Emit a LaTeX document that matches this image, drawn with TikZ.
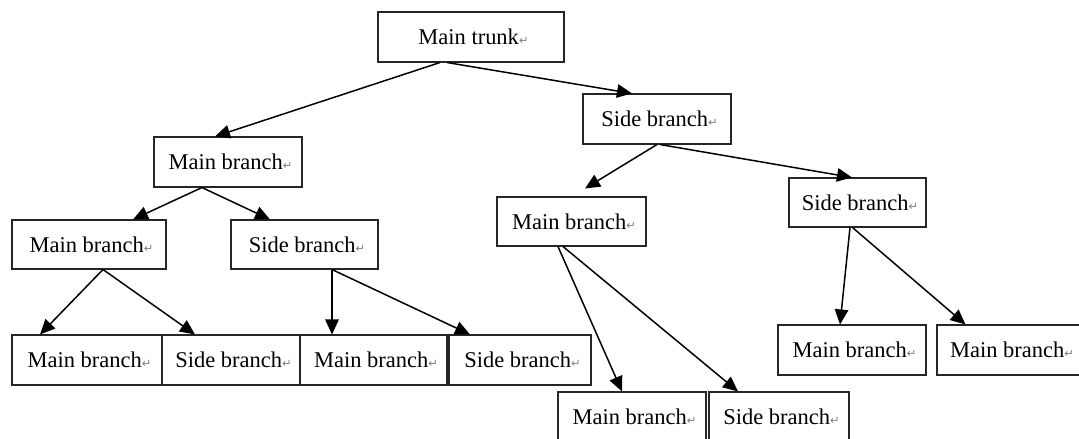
\documentclass[tikz,border=0pt]{standalone}
\usepackage{fontspec}
\setmainfont{Liberation Serif}
\newfontfamily\markfont{DejaVu Sans}
\usetikzlibrary{arrows.meta}
\newcommand{\retmark}{{\markfont\fontsize{6.5}{6.5}\selectfont\color{gray}↵}}

\begin{document}
\begin{tikzpicture}
\fontsize{12.8}{14}\selectfont
  \tikzstyle{boxStyle}=[draw=black!85,line width=0.6pt,fill=white,minimum height=1cm,inner sep=0pt,text centered]
  \tikzstyle{arrStyle}=[line width=0.85pt,-{Triangle[length=0.3cm,width=0.27cm]}]

  \useasboundingbox (0,0) rectangle (21.58,-8.78);

  % top
  \node[boxStyle,minimum width=3.72cm](trunk) at (9.42,-0.74) {\hspace{0.1cm}Main trunk\retmark};
  \node[boxStyle,minimum width=2.96cm](sideA) at (13.14,-2.38) {\hspace{0.1cm}Side branch\retmark};
  \node[boxStyle,minimum width=2.96cm](mainA) at (4.56,-3.24) {\hspace{0.1cm}Main branch\retmark};
  \draw[arrStyle] ([xshift=-0.62cm]trunk.south) -- ([xshift=-0.26cm]mainA.north);
  \draw[arrStyle] ([xshift=-0.48cm]trunk.south) -- ([xshift=-0.5cm]sideA.north);

  % left part
  \node[boxStyle,minimum width=3.08cm,minimum height=0.98cm](mainB) at (1.78,-4.89) {\hspace{0.1cm}Main branch\retmark};
  \node[boxStyle,minimum width=2.94cm,minimum height=0.98cm](sideB) at (6.09,-4.89) {\hspace{0.1cm}Side branch\retmark};
  \draw[arrStyle] ([xshift=-0.52cm]mainA.south) -- ([xshift=0.88cm]mainB.north);
  \draw[arrStyle] ([xshift=-0.52cm]mainA.south) -- ([xshift=-0.69cm]sideB.north);

  \node[boxStyle,minimum width=3.0cm](mainC) at (1.74,-7.2) {\hspace{0.1cm}Main branch\retmark};
  \node[boxStyle,minimum width=2.76cm](sideC) at (4.62,-7.2) {\hspace{0.1cm}Side branch\retmark};
  \node[boxStyle,minimum width=2.94cm](mainD) at (7.47,-7.2) {\hspace{0.1cm}Main branch\retmark};
  \node[boxStyle,minimum width=2.84cm](sideD) at (10.4,-7.2) {\hspace{0.1cm}Side branch\retmark};
  \draw[arrStyle] ([xshift=0.28cm]mainB.south) -- ([xshift=-0.94cm]mainC.north);
  \draw[arrStyle] ([xshift=0.28cm]mainB.south) -- ([xshift=-0.72cm]sideC.north);
  \draw[arrStyle] ([xshift=0.55cm]sideB.south) -- ([xshift=-0.83cm]mainD.north);
  \draw[arrStyle] ([xshift=0.55cm]sideB.south) -- ([xshift=-1.0cm]sideD.north);

  % right part
  \node[boxStyle,minimum width=2.98cm,minimum height=0.98cm](mainE) at (11.43,-4.43) {\hspace{0.1cm}Main branch\retmark};
  \node[boxStyle,minimum width=2.74cm,minimum height=0.98cm](sideE) at (17.15,-4.05) {\hspace{0.1cm}Side branch\retmark};
  \draw[arrStyle] (sideA.south) -- ([xshift=0.27cm,yshift=0.16cm]mainE.north);
  \draw[arrStyle] ([xshift=0.06cm]sideA.south) -- ([xshift=-0.11cm]sideE.north);

  \node[boxStyle,minimum width=2.96cm](mainF) at (17.04,-7.0) {\hspace{0.1cm}Main branch\retmark};
  \node[boxStyle,minimum width=2.9cm](mainG) at (20.19,-7.0) {\hspace{0.1cm}Main branch\retmark};
  \draw[arrStyle] ([xshift=-0.15cm]sideE.south) -- ([xshift=-0.24cm]mainF.north);
  \draw[arrStyle] ([xshift=-0.1cm]sideE.south) -- ([xshift=-0.88cm]mainG.north);

  \node[boxStyle,minimum width=2.96cm](mainH) at (12.64,-8.34) {\hspace{0.1cm}Main branch\retmark};
  \node[boxStyle,minimum width=2.8cm](sideH) at (15.58,-8.34) {\hspace{0.1cm}Side branch\retmark};
  \draw[arrStyle] ([xshift=-0.27cm]mainE.south) -- ([xshift=-0.2cm]mainH.north);
  \draw[arrStyle] ([xshift=-0.17cm]mainE.south) -- ([xshift=-0.82cm]sideH.north);

\end{tikzpicture}
\end{document}
